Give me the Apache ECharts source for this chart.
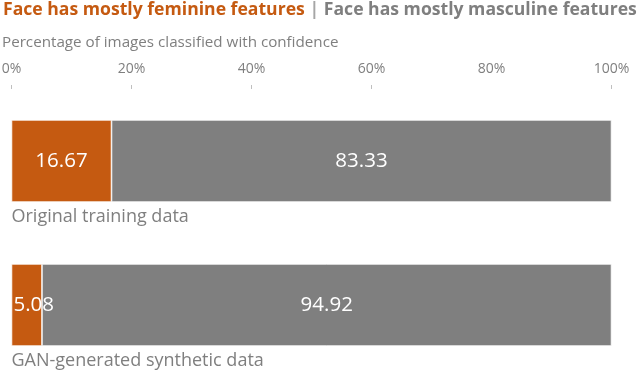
<!DOCTYPE html>
<html><head><meta charset="utf-8">
<script src="https://cdn.jsdelivr.net/npm/echarts@6/dist/echarts.min.js"></script>
<style>html,body{margin:0;padding:0;background:#fff}#c{width:640px;height:372px}</style>
</head><body><div id="c"></div>
<script>
const categories = ['Original training data', 'GAN-generated synthetic data'];
const feminine = [16.67, 5.08];
const masculine = [83.33, 94.92];
const tickValues = [0, 20, 40, 60, 80, 100];
const tickMarks = [0, 20, 40, 60, 100];

const FONT = '"Open Sans", "Noto Sans", sans-serif';
const ORANGE = '#C55A11';
const GRAY = '#7F7F7F';

const chart = echarts.init(document.getElementById('c'));
chart.setOption({
  animation: false,
  textStyle: { fontFamily: FONT },
  title: [{
    left: 3, top: 1, padding: 0,
    text: '{a|Face has mostly feminine features} {b||} {c|Face has mostly masculine features}',
    textStyle: {
      rich: {
        a: { color: ORANGE, fontSize: 17.6, fontWeight: 'bold', fontFamily: FONT },
        b: { color: '#A6A6A6', fontSize: 17.6, fontWeight: 'bold', fontFamily: FONT },
        c: { color: GRAY, fontSize: 17.6, fontWeight: 'bold', fontFamily: FONT }
      }
    }
  }, {
    left: 2, top: 35, padding: 0,
    text: 'Percentage of images classified with confidence',
    textStyle: { color: GRAY, fontSize: 15.2, fontWeight: 'normal', fontFamily: FONT }
  }],
  grid: { left: 11.5, right: 28.5, top: 89, height: 288, outerBoundsMode: 'none' },
  xAxis: {
    type: 'value', position: 'top', min: 0, max: 100, interval: 20,
    axisLine: { show: false },
    axisTick: { show: true, length: 4, lineStyle: { color: '#BFBFBF' }, customValues: tickMarks },
    axisLabel: { color: GRAY, fontSize: 14, margin: 13, formatter: v => v + '%', customValues: tickValues },
    splitLine: { show: false }
  },
  yAxis: {
    type: 'category', inverse: true, data: categories,
    axisLine: { show: false }, axisTick: { show: false },
    axisLabel: {
      inside: true, margin: 0, align: 'left', verticalAlign: 'top',
      padding: [47, 0, 0, 0], color: GRAY, fontSize: 18
    }
  },
  series: [{
    type: 'bar', stack: 'a', barWidth: 82,
    data: feminine.map((v, i) => i === 1 ? { value: v, label: { position: 'insideLeft', distance: 2 } } : v),
    itemStyle: { color: ORANGE, borderColor: '#fff', borderWidth: 0.7 },
    label: { show: true, color: '#fff', fontSize: 20.5, formatter: p => p.value.toFixed(2) }
  }, {
    type: 'bar', stack: 'a', barWidth: 82, data: masculine,
    itemStyle: { color: GRAY, borderColor: '#fff', borderWidth: 0.7 },
    label: { show: true, color: '#fff', fontSize: 20.5, formatter: p => p.value.toFixed(2) }
  }]
});
</script></body></html>
